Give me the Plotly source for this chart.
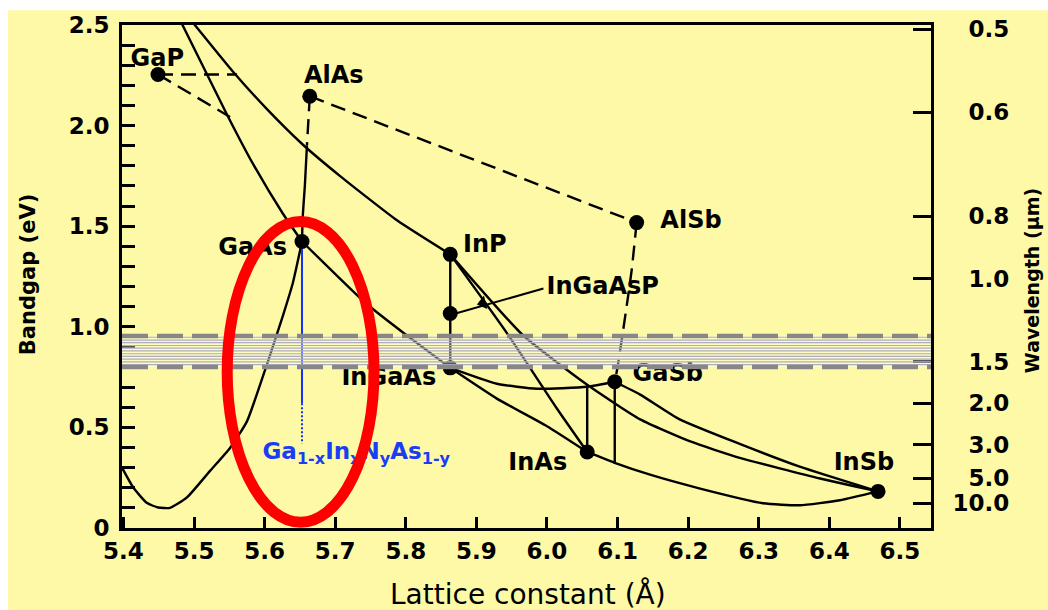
import plotly.graph_objects as go

# ---------------- data (lattice constant in Angstrom, bandgap in eV) ----------------
compounds = ["GaP", "AlAs", "GaAs", "InP", "AlSb", "GaSb", "InAs", "InSb"]
lattice_a = [5.449, 5.664, 5.653, 5.863, 6.127, 6.096, 6.057, 6.469]
bandgap_ev = [2.254, 2.146, 1.424, 1.360, 1.518, 0.727, 0.378, 0.182]

alloy_points = ["InGaAsP", "InGaAs"]
alloy_a = [5.863, 5.863]
alloy_ev = [1.066, 0.796]

# label anchor positions
label_text = ["GaP", "AlAs", "GaAs", "InP", "InGaAsP", "InGaAs", "AlSb", "GaSb", "InAs", "InSb"]
label_a = [5.448, 5.698, 5.583, 5.912, 6.079, 5.776, 6.204, 6.171, 5.987, 6.449]
label_ev = [2.328, 2.240, 1.389, 1.400, 1.194, 0.742, 1.523, 0.761, 0.319, 0.319]

# solid alloy curves
gaasp_a = [5.483, 5.547, 5.584, 5.626, 5.653]
gaasp_ev = [2.505, 2.053, 1.807, 1.562, 1.424]

alinp_a = [5.500, 5.555, 5.603, 5.654, 5.707, 5.788, 5.863]
alinp_ev = [2.505, 2.269, 2.083, 1.906, 1.749, 1.528, 1.360]

algaas_a = [5.660, 5.657, 5.654, 5.653]
algaas_ev = [1.901, 1.700, 1.547, 1.424]

ganas_a = [5.653, 5.640, 5.626, 5.603, 5.575, 5.551, 5.523, 5.490, 5.466, 5.449, 5.433, 5.414, 5.398]
ganas_ev = [1.424, 1.218, 1.056, 0.810, 0.530, 0.398, 0.285, 0.152, 0.100, 0.102, 0.125, 0.201, 0.300]

gaas_ingaas_a = [5.653, 5.735, 5.756, 5.796, 5.863]
gaas_ingaas_ev = [1.424, 1.144, 1.081, 0.972, 0.796]

ingaas_inas_a = [5.863, 5.929, 6.000, 6.057]
ingaas_inas_ev = [0.796, 0.643, 0.506, 0.378]

gaassb_a = [5.863, 5.929, 5.986, 6.057, 6.096]
gaassb_ev = [0.796, 0.717, 0.692, 0.702, 0.727]

inasp_a = [5.863, 5.943, 6.014, 6.057]
inasp_ev = [1.360, 0.970, 0.594, 0.378]

inpsb_a = [5.863, 5.966, 6.057, 6.132, 6.203, 6.273, 6.387, 6.469]
inpsb_ev = [1.360, 0.958, 0.712, 0.540, 0.430, 0.349, 0.246, 0.182]

ingasb_a = [6.096, 6.132, 6.188, 6.273, 6.358, 6.469]
ingasb_ev = [0.727, 0.663, 0.540, 0.418, 0.305, 0.182]

inassb_a = [6.057, 6.096, 6.146, 6.217, 6.306, 6.358, 6.415, 6.469]
inassb_ev = [0.378, 0.324, 0.265, 0.196, 0.123, 0.113, 0.138, 0.182]

tie1_a = [6.057, 6.057]
tie1_ev = [0.712, 0.378]
tie2_a = [6.096, 6.096]
tie2_ev = [0.727, 0.318]
inp_tie_a = [5.863, 5.863]
inp_tie_ev = [1.360, 0.796]

# dashed (indirect) segments
gap_h_a = [5.449, 5.561]
gap_h_ev = [2.254, 2.254]
gap_d_a = [5.449, 5.551]
gap_d_ev = [2.254, 2.043]
alassb_a = [5.664, 6.127]
alassb_ev = [2.146, 1.518]
alas_down_a = [5.664, 5.660]
alas_down_ev = [2.146, 1.901]
algasb_a = [6.127, 6.120, 6.113, 6.100, 6.096]
algasb_ev = [1.518, 1.282, 1.105, 0.800, 0.727]

# InGaAsP pointer
pointer_a = [5.995, 5.868]
pointer_ev = [1.190, 1.064]
pointer_head_a = [5.909]
pointer_head_ev = [1.118]

# GaInNAs line (blue)
gainnas_solid_a = [5.653, 5.653]
gainnas_solid_ev = [1.424, 0.620]
gainnas_dot_a = [5.653, 5.653]
gainnas_dot_ev = [0.620, 0.420]
gainnas_label_a = 5.597
gainnas_label_ev = 0.373

# highlighted region (ellipse)
ellipse_a = [5.547, 5.755]
ellipse_ev = [0.029, 1.523]

# telecom band (wavelengths in um)
band_edges_um = [1.3, 1.55]
band_fill_ev = [0.812, 0.826, 0.839, 0.853, 0.866, 0.880, 0.894, 0.907, 0.921, 0.934, 0.948]

# axes ticks
x_ticks = [5.4, 5.5, 5.6, 5.7, 5.8, 5.9, 6.0, 6.1, 6.2, 6.3, 6.4, 6.5]
y_ticks = [0, 0.5, 1.0, 1.5, 2.0, 2.5]
y_ticktext = ["0", "0.5", "1.0", "1.5", "2.0", "2.5"]
wl_ticks = [0.5, 0.6, 0.8, 1.0, 1.5, 2.0, 3.0, 5.0, 10.0]
wl_ticktext = ["\u20070.5", "\u20070.6", "\u20070.8", "\u20071.0", "\u20071.5",
               "\u20072.0", "\u20073.0", "\u20075.0", "10.0"]

HC = 1.24  # eV*um

BG = "#FDF9A6"
FONT = "DejaVu Sans"

fig = go.Figure()


def line(xs, ys, dash=None, width=2.4, color="black", spline=True):
    fig.add_trace(go.Scatter(
        x=xs, y=ys, mode="lines",
        line=dict(color=color, width=width, dash=dash,
                  shape="spline" if spline else "linear", smoothing=0.5),
        showlegend=False, hoverinfo="skip"))


for xs, ys in [(gaasp_a, gaasp_ev), (alinp_a, alinp_ev), (algaas_a, algaas_ev),
               (ganas_a, ganas_ev), (gaas_ingaas_a, gaas_ingaas_ev),
               (ingaas_inas_a, ingaas_inas_ev), (gaassb_a, gaassb_ev),
               (inasp_a, inasp_ev), (inpsb_a, inpsb_ev), (ingasb_a, ingasb_ev),
               (inassb_a, inassb_ev)]:
    line(xs, ys)

for xs, ys in [(tie1_a, tie1_ev), (tie2_a, tie2_ev), (inp_tie_a, inp_tie_ev)]:
    line(xs, ys, spline=False)

for xs, ys in [(gap_h_a, gap_h_ev), (gap_d_a, gap_d_ev), (alassb_a, alassb_ev),
               (alas_down_a, alas_down_ev)]:
    line(xs, ys, dash="15px,8px", spline=False)
line(algasb_a, algasb_ev, dash="15px,8px")

# pointer line + head
line(pointer_a, pointer_ev, width=2, spline=False)
fig.add_trace(go.Scatter(x=pointer_head_a, y=pointer_head_ev, mode="markers",
                         marker=dict(symbol="triangle-left", size=12, color="black", angle=-14),
                         showlegend=False, hoverinfo="skip"))

# blue GaInNAs line
line(gainnas_solid_a, gainnas_solid_ev, color="#1533ff", width=2, spline=False)
line(gainnas_dot_a, gainnas_dot_ev, color="#1533ff", width=2, dash="2px,2px", spline=False)

# compound dots
fig.add_trace(go.Scatter(x=lattice_a + alloy_a, y=bandgap_ev + alloy_ev, mode="markers",
                         marker=dict(size=15, color="black"),
                         showlegend=False, hoverinfo="skip"))

# labels
fig.add_trace(go.Scatter(x=label_a, y=label_ev, mode="text", text=label_text,
                         textposition="middle center",
                         textfont=dict(family=FONT, size=24, color="black", weight="bold"),
                         showlegend=False, hoverinfo="skip"))
fig.add_trace(go.Scatter(x=[gainnas_label_a], y=[gainnas_label_ev], mode="text",
                         text=["Ga<sub>1-x</sub>In<sub>x</sub>N<sub>y</sub>As<sub>1-y</sub>"],
                         textposition="middle right",
                         textfont=dict(family=FONT, size=23, color="#1a3cf5", weight="bold"),
                         showlegend=False, hoverinfo="skip"))

# dummy trace for right axis
fig.add_trace(go.Scatter(x=[5.5], y=[1.0], yaxis="y2", mode="markers",
                         marker=dict(opacity=0), showlegend=False, hoverinfo="skip"))

shapes = []
# page background (white strips at top/left like the scan)
shapes.append(dict(type="rect", xref="paper", yref="paper", x0=-0.141, x1=1.16,
                   y0=-0.17, y1=1.0295, fillcolor=BG, line=dict(width=0), layer="below"))
# telecom band: light wash + thin lines + dashed edges
shapes.append(dict(type="rect", xref="paper", yref="y", x0=0, x1=1,
                   y0=HC / band_edges_um[1], y1=HC / band_edges_um[0],
                   fillcolor="rgba(255,255,255,0.35)", line=dict(width=0), layer="above"))
for e in band_fill_ev:
    shapes.append(dict(type="line", xref="paper", yref="y", x0=0, x1=1, y0=e, y1=e,
                       line=dict(color="#adadbd", width=1.2), layer="above"))
for wl in band_edges_um:
    e = HC / wl
    shapes.append(dict(type="line", xref="paper", yref="y", x0=0, x1=1, y0=e, y1=e,
                       line=dict(color="#878787", width=4.5, dash="26px,9px"), layer="above"))
# red ellipse
shapes.append(dict(type="circle", xref="x", yref="y", x0=ellipse_a[0], x1=ellipse_a[1],
                   y0=ellipse_ev[0], y1=ellipse_ev[1], line=dict(color="#ff0000", width=11),
                   layer="above"))

annotations = [
    dict(text="Lattice constant (Å)", xref="paper", yref="paper", x=0.502, y=-0.132,
         showarrow=False, font=dict(family=FONT, size=28, color="black"),
         xanchor="center", yanchor="middle"),
    dict(text="Bandgap (eV)", xref="paper", yref="paper", x=-0.116, y=0.503,
         showarrow=False, textangle=-90, font=dict(family=FONT, size=21, color="black", weight="bold"),
         xanchor="center", yanchor="middle"),
    dict(text="Wavelength (µm)", xref="paper", yref="paper", x=1.125, y=0.491,
         showarrow=False, textangle=-90, font=dict(family=FONT, size=19, color="black", weight="bold"),
         xanchor="center", yanchor="middle"),
]

tickfont = dict(family=FONT, size=23, color="black", weight="bold")

fig.update_layout(
    width=1048, height=610,
    margin=dict(l=122, r=117, t=19, b=82),
    paper_bgcolor="white", plot_bgcolor=BG,
    shapes=shapes, annotations=annotations,
    xaxis=dict(range=[5.398, 6.544], showgrid=False, zeroline=False,
               showline=True, linecolor="black", linewidth=3, mirror=True,
               ticks="inside", ticklen=11, tickwidth=2.5, tickcolor="black",
               tickmode="array", tickvals=x_ticks, ticktext=[f"{v:.1f}" for v in x_ticks],
               tickfont=tickfont, ticklabelstandoff=0),
    yaxis=dict(range=[0, 2.5], showgrid=False, zeroline=False,
               showline=True, linecolor="black", linewidth=3, mirror=True,
               ticks="inside", ticklen=13, tickwidth=2.5, tickcolor="black",
               tickmode="array", tickvals=y_ticks, ticktext=y_ticktext,
               tickfont=tickfont, ticklabelstandoff=5,
               minor=dict(dtick=0.1, tick0=0, ticks="inside", ticklen=13, tickwidth=2.5,
                          tickcolor="black", showgrid=False)),
    yaxis2=dict(range=[0, 2.5], overlaying="y", side="right", showgrid=False, zeroline=False,
                showline=True, linecolor="black", linewidth=3,
                ticks="inside", ticklen=18, tickwidth=2.5, tickcolor="black",
                tickmode="array", tickvals=[HC / w for w in wl_ticks], ticktext=wl_ticktext,
                tickfont=tickfont, ticklabelstandoff=14),
)

fig.write_html("out.html")
